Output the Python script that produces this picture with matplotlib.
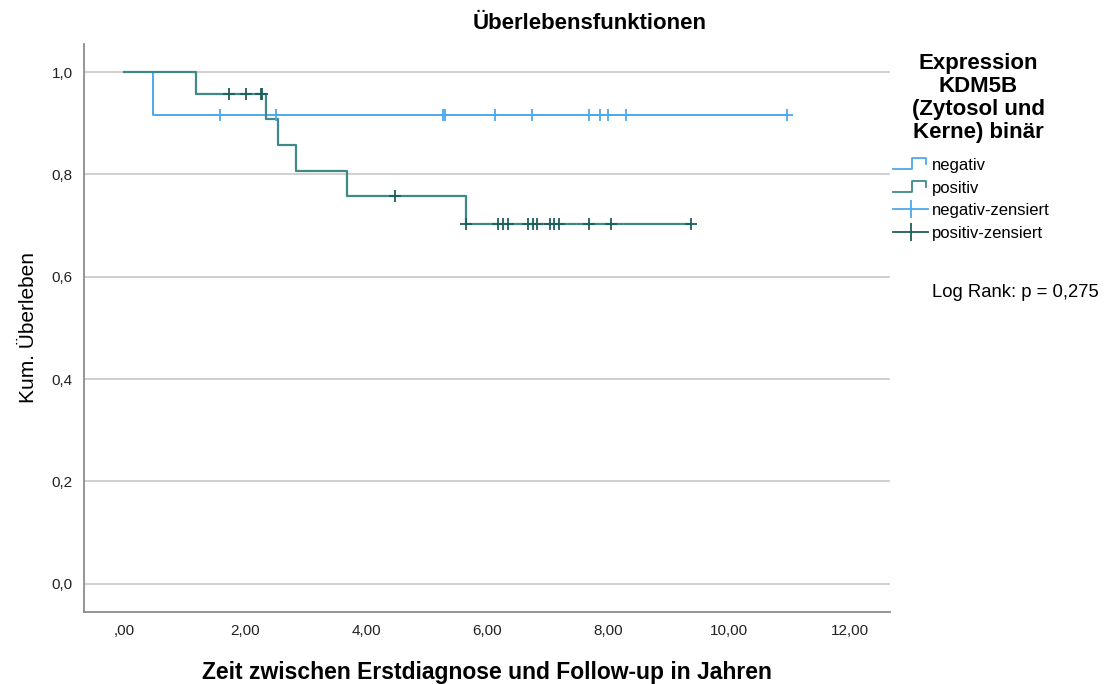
import numpy as np
import matplotlib
matplotlib.use('Agg')
import matplotlib.pyplot as plt
from matplotlib.lines import Line2D
from matplotlib.legend_handler import HandlerBase

plt.rcParams['font.family'] = ['Liberation Sans', 'DejaVu Sans']

# Kaplan-Meier steps
neg_t = [0.0, 0.48, 10.96]
neg_s = [1.0, 0.917, 0.917]
pos_t = [0.0, 1.19, 2.34, 2.54, 2.84, 3.68, 5.65, 9.37]
pos_s = [1.0, 0.958, 0.908, 0.857, 0.807, 0.757, 0.703, 0.703]

# censored times
neg_cens = [1.59, 2.52, 5.27, 5.30, 6.13, 6.75, 7.69, 7.87, 8.00, 8.30, 10.96]
pos_cens = [1.74, 2.01, 2.26, 2.28, 4.48, 5.65, 6.18, 6.26, 6.34, 6.67, 6.76,
            6.83, 7.04, 7.10, 7.19, 7.69, 8.05, 9.37]

xticks = [0, 2, 4, 6, 8, 10, 12]
xlabels = [',00', '2,00', '4,00', '6,00', '8,00', '10,00', '12,00']
yticks = [0.0, 0.2, 0.4, 0.6, 0.8, 1.0]
ylabels = ['0,0', '0,2', '0,4', '0,6', '0,8', '1,0']

c_neg = '#4DA9EE'
c_pos = '#3F8A86'
c_pos_cens = '#1D5F5B'


def level_at(t, times, surv):
    idx = np.searchsorted(times, t, side='right') - 1
    return np.array(surv)[idx]


class StepHandler(HandlerBase):
    def __init__(self, color):
        super().__init__()
        self.color = color

    def create_artists(self, legend, orig_handle, xdescent, ydescent,
                       width, height, fontsize, trans):
        xs = np.array([0, 0.55, 0.55, 0.95, 0.95]) * width
        ys = np.array([0.05, 0.05, 1.0, 1.0, 0.5]) * height
        ln = Line2D(xs - xdescent, ys - ydescent,
                    color=self.color, lw=1.3, transform=trans)
        return [ln]


fig = plt.figure(figsize=(11.04, 6.84), dpi=100)
ax = fig.add_axes([0.0761, 0.1053, 0.7300, 0.8304])

ax.step(neg_t, neg_s, where='post', color=c_neg, lw=1.4, zorder=3)
ax.step(pos_t, pos_s, where='post', color=c_pos, lw=1.6, zorder=3)
ax.plot(neg_cens, level_at(neg_cens, neg_t, neg_s), ls='none', marker='+',
        ms=8, mew=1.3, color=c_neg, zorder=4)
ax.plot(pos_cens, level_at(pos_cens, pos_t, pos_s), ls='none', marker='+',
        ms=8, mew=1.3, color=c_pos_cens, zorder=4)

ax.set_xlim(-0.66, 12.66)
ax.set_ylim(-0.055, 1.055)
ax.set_xticks(xticks)
ax.set_xticklabels(xlabels, fontsize=11)
ax.set_yticks(yticks)
ax.set_yticklabels(ylabels, fontsize=11)
ax.tick_params(length=0, colors='#222222')
ax.tick_params(axis='x', pad=9)
ax.tick_params(axis='y', pad=8)
ax.yaxis.grid(True, color='#C8C8C8', lw=1.2)
ax.set_axisbelow(True)
for s in ['top', 'right']:
    ax.spines[s].set_visible(False)
for s in ['left', 'bottom']:
    ax.spines[s].set_color('#8C8C8C')
    ax.spines[s].set_linewidth(1.3)

ax.set_xlabel('Zeit zwischen Erstdiagnose und Follow-up in Jahren',
              fontsize=16.5, fontweight='bold', labelpad=16)
ax.set_ylabel('Kum. Überleben', fontsize=15, labelpad=10)
fig.text(0.534, 0.965, 'Überlebensfunktionen', ha='center', va='center',
         fontsize=16, fontweight='bold')

# legend title as separate text, centred like in SPSS
fig.text(0.886, 0.857, 'Expression\nKDM5B\n(Zytosol und\nKerne) binär',
         ha='center', va='center', multialignment='center',
         fontsize=16, fontweight='bold', linespacing=1.12)

h_neg = object()
h_pos = object()
h_negc = Line2D([], [], marker='|', ms=13, mew=1.3, lw=1.3, color=c_neg)
h_posc = Line2D([], [], marker='|', ms=13, mew=1.3, lw=1.3, color=c_pos_cens)
leg = fig.legend([h_neg, h_pos, h_negc, h_posc],
                 ['negativ', 'positiv', 'negativ-zensiert', 'positiv-zensiert'],
                 handler_map={h_neg: StepHandler(c_neg), h_pos: StepHandler(c_pos)},
                 loc='upper left', bbox_to_anchor=(0.809, 0.769),
                 borderaxespad=0, borderpad=0,
                 fontsize=12, frameon=False, handlelength=2.1,
                 handletextpad=0.25, labelspacing=0.45)

fig.text(0.844, 0.573, 'Log Rank: p = 0,275', fontsize=13.3, va='center')

fig.savefig('out.png', dpi=100)
